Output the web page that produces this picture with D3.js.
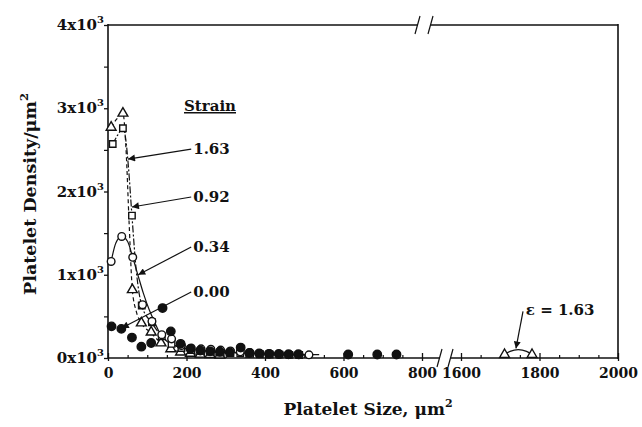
<!DOCTYPE html>
<html>
<head>
<meta charset="utf-8">
<script src="https://cdn.jsdelivr.net/npm/d3@7"></script>
<style>
body { margin: 0; background: #fff; }
svg text { font-family: "DejaVu Serif", serif; font-weight: bold; fill: #111; }
</style>
</head>
<body>
<svg width="642" height="427"></svg>
<script>
// ---- data (size in um^2, density in platelets/um^2) ----
var xTicks = [0, 200, 400, 600, 800, 1600, 1800, 2000];
var yTicks = [0, 1000, 2000, 3000, 4000];
var strainLabels = ["1.63", "0.92", "0.34", "0.00"];

// strain 0.00 (filled circles)
var size000 = [9, 34, 61, 85, 110, 139, 160, 185, 210, 235, 260, 285, 310, 338, 360, 385, 410, 435, 460, 485, 612, 686, 735];
var dens000 = [380, 350, 245, 136, 180, 600, 320, 170, 110, 90, 80, 75, 70, 125, 60, 55, 50, 48, 45, 45, 42, 42, 42];

// strain 0.34 (open circles)
var size034 = [8, 35, 63, 88, 112, 137, 162, 187, 212, 237, 262, 287, 312, 337, 362, 387, 412, 437, 462, 487, 512];
var dens034 = [1160, 1460, 1210, 640, 440, 280, 230, 150, 120, 110, 105, 95, 85, 75, 65, 55, 50, 45, 42, 40, 38];
var fit034Size = [8, 20, 35, 50, 63, 76, 90, 105, 118, 132, 150, 175, 210, 260, 330, 420, 538];
var fit034Dens = [1160, 1380, 1460, 1400, 1210, 1000, 780, 580, 440, 300, 200, 140, 105, 85, 65, 50, 40];

// strain 0.92 (open squares)
var size092 = [12, 38, 61, 86, 112, 137, 162, 187, 212, 237, 262, 287, 312, 337, 362, 387, 412, 437, 462, 487];
var dens092 = [2570, 2760, 1710, 630, 430, 260, 170, 120, 95, 85, 75, 65, 60, 55, 50, 45, 42, 40, 38, 36];
var fit092Size = [12, 25, 38, 46, 52, 61, 72, 86, 112, 137, 162, 200, 260, 340, 420, 500];
var fit092Dens = [2570, 2680, 2760, 2600, 2300, 1710, 1050, 630, 420, 260, 170, 110, 75, 55, 45, 38];

// strain 1.63 (open triangles)
var size163 = [8, 38, 62, 85, 110, 135, 160, 185, 210, 235, 260, 285, 1711, 1781];
var dens163 = [2770, 2940, 820, 420, 310, 180, 110, 70, 55, 45, 40, 35, 40, 40];
var fit163Size = [8, 22, 38, 46, 54, 62, 72, 85, 110, 135, 160, 190, 230, 290];
var fit163Dens = [2770, 2870, 2940, 2500, 1600, 820, 560, 420, 300, 180, 110, 65, 45, 35];
var bump163Size = [1711, 1725, 1746, 1767, 1781];
var bump163Dens = [40, 80, 100, 80, 40];

// annotation arrows: label point -> tip (data units)
var arrowFromSize = [212, 212, 212, 212];
var arrowFromDens = [2510, 1934, 1333, 793];
var arrowToSize = [51, 61, 77, 35];
var arrowToDens = [2390, 1814, 1000, 360];

function main() {
    var svg = d3.select("svg"),
        left = 108, right = 618, top = 25, bottom = 358;

    var x = d3.scaleLinear().domain([0, 800, 1600, 2000]).range([left, 422, 461, right]);
    var y = d3.scaleLinear().domain([0, 4000]).range([bottom, top]);

    var defs = svg.append("defs");
    defs.append("marker")
        .attr("id", "head")
        .attr("viewBox", "0 0 10 10")
        .attr("refX", 10).attr("refY", 5)
        .attr("markerWidth", 9).attr("markerHeight", 7)
        .attr("markerUnits", "userSpaceOnUse")
        .attr("orient", "auto")
        .append("path").attr("d", "M0,0L10,5L0,10z").attr("fill", "#111");

    // frame with axis breaks
    var frame = svg.append("g").attr("stroke", "#111").attr("stroke-width", 1.6).attr("fill", "none");
    frame.append("line").attr("x1", left).attr("x2", left).attr("y1", top - 1).attr("y2", bottom + 1);
    frame.append("line").attr("x1", right).attr("x2", right).attr("y1", top - 1).attr("y2", bottom + 1);
    frame.append("line").attr("x1", left).attr("x2", 440).attr("y1", bottom).attr("y2", bottom);
    frame.append("line").attr("x1", 451).attr("x2", right).attr("y1", bottom).attr("y2", bottom);
    frame.append("line").attr("x1", left).attr("x2", 418).attr("y1", top).attr("y2", top);
    frame.append("line").attr("x1", 431).attr("x2", right).attr("y1", top).attr("y2", top);
    [[440, bottom], [451, bottom], [418, top], [431, top]].forEach(function(b) {
        frame.append("line").attr("stroke-width", 1.2)
            .attr("x1", b[0] - 3).attr("y1", b[1] + 9)
            .attr("x2", b[0] + 2).attr("y2", b[1] - 9);
    });

    // x axis
    var minorX = d3.range(0, 801, 50).concat(d3.range(1600, 2001, 50))
        .filter(function(v) { return xTicks.indexOf(v) < 0; });
    var gxMinor = svg.append("g").attr("transform", "translate(0," + bottom + ")")
        .call(d3.axisBottom(x).tickValues(minorX).tickSize(-3).tickFormat(""));
    gxMinor.select(".domain").remove();
    var gx = svg.append("g").attr("transform", "translate(0," + bottom + ")")
        .call(d3.axisBottom(x).tickValues(xTicks).tickSize(-5).tickPadding(10).tickFormat(d3.format("d")));
    gx.select(".domain").remove();
    gx.selectAll(".tick line").attr("y2", 3).attr("y1", -5);
    gx.selectAll("line").attr("stroke", "#111").attr("stroke-width", 1.3);
    gxMinor.selectAll("line").attr("stroke", "#111").attr("stroke-width", 1.2);
    gx.selectAll("text").attr("font-size", 14).attr("font-family", null).attr("fill", "#111");

    // y axis
    var minorY = [500, 1500, 2500, 3500];
    var gyMinor = svg.append("g").attr("transform", "translate(" + left + ",0)")
        .call(d3.axisLeft(y).tickValues(minorY).tickSize(4).tickFormat(""));
    gyMinor.select(".domain").remove();
    var gy = svg.append("g").attr("transform", "translate(" + left + ",0)")
        .call(d3.axisLeft(y).tickValues(yTicks).tickSize(4).tickFormat(""));
    gy.select(".domain").remove();
    svg.selectAll("g line").attr("stroke", "#111");
    gyMinor.selectAll("line").attr("stroke-width", 1.2);
    gy.selectAll("line").attr("stroke-width", 1.3);

    var yl = svg.append("g").selectAll("text").data(yTicks).enter().append("text")
        .attr("x", 104)
        .attr("y", function(d) { return y(d) + 5; })
        .attr("text-anchor", "end")
        .attr("font-size", 15);
    yl.append("tspan").text(function(d) { return (d / 1000) + "x10"; });
    yl.append("tspan").attr("dy", -7).attr("font-size", 10).text("3");

    // axis titles
    var xt = svg.append("text").attr("x", 368).attr("y", 415)
        .attr("text-anchor", "middle").attr("font-size", 17);
    xt.append("tspan").text("Platelet Size, \u03bcm");
    xt.append("tspan").attr("dy", -8).attr("font-size", 11).text("2");

    var yt = svg.append("text").attr("transform", "translate(36,194) rotate(-90)")
        .attr("text-anchor", "middle").attr("font-size", 17.5);
    yt.append("tspan").text("Platelet Density/\u03bcm");
    yt.append("tspan").attr("dy", -8).attr("font-size", 11.5).text("2");

    // fitted curves
    var line = d3.line()
        .x(function(d) { return x(d[0]); })
        .y(function(d) { return y(d[1]); })
        .curve(d3.curveMonotoneX);
    var zip = function(a, b) { return a.map(function(v, i) { return [v, b[i]]; }); };

    var curves = svg.append("g").attr("fill", "none").attr("stroke", "#111").attr("stroke-width", 1.2);
    curves.append("path").attr("d", line(zip(fit034Size, fit034Dens)));
    curves.append("path").attr("d", line(zip(fit092Size, fit092Dens))).attr("stroke-dasharray", "7,2,2,2");
    curves.append("path").attr("d", line(zip(fit163Size, fit163Dens))).attr("stroke-dasharray", "4,3");
    curves.append("path")
        .attr("d", d3.line().x(function(d) { return x(d[0]); }).y(function(d) { return y(d[1]); })
            .curve(d3.curveCatmullRom)(zip(bump163Size, bump163Dens)));

    // points
    var pts = svg.append("g");
    function drawPoints(sx, sy, type, size, fill) {
        pts.append("g").selectAll("path").data(zip(sx, sy)).enter().append("path")
            .attr("transform", function(d) { return "translate(" + x(d[0]) + "," + y(d[1]) + ")"; })
            .attr("d", d3.symbol().type(type).size(size))
            .attr("fill", fill)
            .attr("stroke", "#111")
            .attr("stroke-width", 1.4);
    }
    drawPoints(size163, dens163, d3.symbolTriangle, 42, "#fff");
    drawPoints(size092, dens092, d3.symbolSquare, 42, "#fff");
    drawPoints(size034, dens034, d3.symbolCircle, 46, "#fff");
    drawPoints(size000, dens000, d3.symbolCircle, 56, "#111");

    // legend labels with arrows
    svg.append("text").attr("x", 184).attr("y", 111).attr("font-size", 15)
        .attr("text-decoration", "underline").text("Strain");
    strainLabels.forEach(function(s, i) {
        svg.append("line")
            .attr("x1", x(arrowFromSize[i])).attr("y1", y(arrowFromDens[i]))
            .attr("x2", x(arrowToSize[i])).attr("y2", y(arrowToDens[i]))
            .attr("stroke", "#111").attr("stroke-width", 1.2)
            .attr("marker-end", "url(#head)");
        svg.append("text")
            .attr("x", x(arrowFromSize[i]) + 2)
            .attr("y", y(arrowFromDens[i]) + 5)
            .attr("font-size", 15)
            .text(s);
    });

    // epsilon annotation
    svg.append("line")
        .attr("x1", x(1758)).attr("y1", y(560))
        .attr("x2", x(1740)).attr("y2", y(115))
        .attr("stroke", "#111").attr("stroke-width", 1.2)
        .attr("marker-end", "url(#head)");
    svg.append("text").attr("x", x(1760) + 2).attr("y", y(560) + 4)
        .attr("font-size", 15).text("\u03b5 = 1.63");
}
main();
</script>
</body>
</html>
